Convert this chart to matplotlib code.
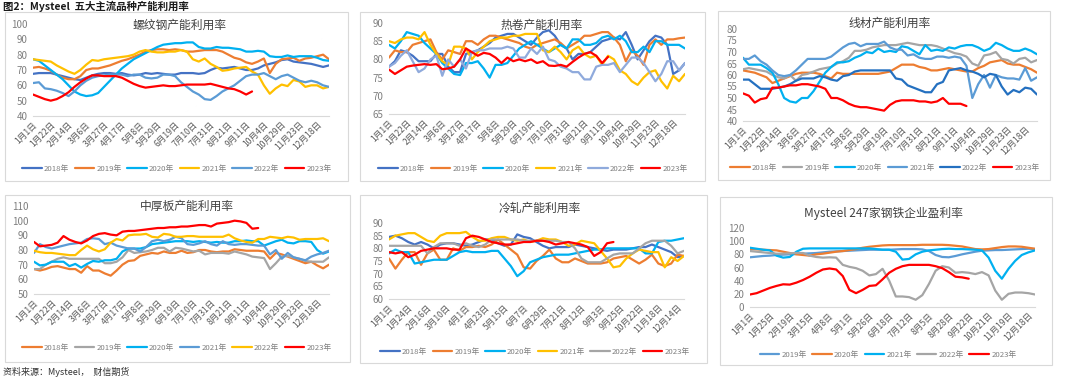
import numpy as np
import matplotlib
matplotlib.use("Agg")
import matplotlib.pyplot as plt
from matplotlib.patches import Rectangle

plt.rcParams["font.family"] = ["Noto Sans CJK SC", "DejaVu Sans"]

# ---------------- data ----------------
labels_a = ["1月1日", "1月22日", "2月14日", "3月6日", "3月27日", "4月17日", "5月8日", "5月29日",
            "6月19日", "7月10日", "7月31日", "8月21日", "9月11日", "10月4日", "10月29日", "11月23日", "12月18日"]
labels_cr = ["1月1日", "1月24日", "2月16日", "3月10日", "4月1日", "4月23日", "5月15日", "6月7日",
             "6月29日", "7月21日", "8月12日", "9月3日", "9月25日", "10月22日", "11月18日", "12月14日"]
labels_pf = ["1月1日", "1月25日", "2月19日", "3月15日", "4月8日", "5月1日", "5月26日", "6月18日",
             "7月12日", "8月5日", "8月28日", "9月22日", "10月21日", "11月19日", "12月18日"]

# 螺纹钢
rb_2018 = [67.5, 68, 68, 68, 67, 66, 65, 64, 63.5, 65, 66.5, 67.5, 68, 68, 67.5, 68, 67, 66.5, 67, 68, 67.5, 68, 67.5, 67, 67,
           68, 68, 68, 67.5, 68, 70, 71.5, 71, 71.5, 72, 71, 70, 70, 71, 73, 74, 75, 76.5, 77, 75.5, 75, 74.5, 74, 73, 72, 73]
rb_2019 = [71.5, 72, 71, 69.5, 67, 65, 64, 64, 66, 70, 71, 71, 72, 73, 74.5, 76, 77, 78.5, 80, 82, 83, 83.5, 83.5, 83, 83.5,
           83, 82, 82, 82.5, 83, 83, 83, 82, 80, 78, 77, 75, 74, 75.5, 77.5, 68, 74, 77, 77.5, 78, 76, 77.5, 78, 79, 80, 77]
rb_2020 = [77, 76, 73, 70, 67, 64, 60, 56, 54, 53, 53.5, 55, 59, 63, 67, 71, 74, 77, 79, 81, 83, 85, 86.5, 87, 87.5,
           87.5, 88, 88, 85, 84, 84, 85, 84.5, 84.5, 84, 83.5, 82, 82, 82.5, 82, 79, 78.5, 78.5, 79.5, 78.5, 79, 79, 79, 78, 76.5, 76]
rb_2021 = [77, 76.5, 76, 75.5, 73, 71, 69, 67.5, 70, 73.5, 76.5, 76, 77, 77.5, 78, 78.5, 79, 80, 82, 83, 82, 81.5, 81.5, 82, 82,
           83, 82, 77, 75.5, 77.5, 74, 72, 69.5, 70, 71, 71.5, 72, 69, 67, 60, 54.5, 58, 60.5, 59.5, 63.5, 62.5, 59, 60, 60, 58, 59]
rb_2022 = [61.5, 62, 58, 57.5, 56.5, 55, 53, 56, 60, 63, 65, 66, 66.5, 67, 67, 67, 66, 67, 67, 65, 64.5, 65, 67, 67, 66,
           62, 59, 56, 54, 51, 50.5, 53, 56, 58, 60, 63, 66, 67, 67, 68, 66, 64, 66, 67, 65, 63, 62, 63, 62, 60, 59]
rb_2023 = [54, 52.5, 51, 50, 51, 53, 55.5, 59, 62, 64.5, 66.5, 66.5, 66, 66, 66, 65, 63, 61, 59.5, 58.5, 59, 59.5, 60, 59.5, 59.5,
           60, 60.5, 60.5, 60.5, 60.5, 61, 60, 59, 58, 57.5, 56, 54, 56]

# 热卷
hr_2018 = [78, 79.5, 82.5, 82, 81, 79.5, 79.5, 79.5, 81.5, 81.5, 78, 76.5, 76.5, 81.5, 82, 82.5, 83.5, 84.5, 86, 86.5,
           87, 87, 86, 85, 84, 86, 87.5, 88, 86.5, 84, 83, 80, 81.5, 81.5, 82, 83.5, 85, 85.5, 86, 85.5,
           87.5, 84, 80, 82.5, 85, 86.5, 86, 84, 76, 77, 79]
hr_2019 = [80.5, 82.5, 82, 82, 84, 84.5, 85, 85.5, 82, 80, 82.5, 82, 81.5, 85, 85, 84, 85.5, 86.5, 86.5, 86,
           85.5, 85, 84.5, 83.5, 83, 84, 84.5, 85, 85.5, 84.5, 83, 84, 85, 86.5, 86.5, 87, 87.5, 87.5, 86, 84,
           79.5, 82.5, 81, 78.5, 84, 85.5, 84, 85.5, 85.5, 85.8, 86]
hr_2020 = [84, 83, 85, 87.5, 87, 86.5, 84.5, 83, 81.5, 79, 77.5, 76, 75.7, 79, 79, 79.5, 77.5, 75, 78.5, 78.5,
           79, 81, 83, 84, 85, 84, 83, 82, 83, 84, 83, 85.5, 85.5, 84, 84, 84.5, 86, 86.5, 85.5, 86.5,
           85, 82, 82, 83.5, 82, 85, 85, 84, 84, 84, 83]
hr_2021 = [85, 84.5, 85.5, 86, 86, 85.5, 87.5, 84, 81.5, 79.5, 78.5, 83.5, 83.5, 83, 80, 82, 83.5, 85, 85.5, 86,
           86, 86.5, 86.5, 87, 87, 87, 82.5, 82, 83.5, 82, 80, 82.5, 83.5, 81.5, 80.5, 81, 78.5, 81, 80, 77,
           76, 74, 73, 75, 76.5, 77, 74, 72, 75.5, 74, 76]
hr_2022 = [78, 79, 81, 82.5, 79.5, 76.5, 77.5, 80, 81, 75.5, 80, 78, 80, 77.5, 82, 82.5, 82.5, 83, 83, 83,
           83.5, 83, 80.5, 80.5, 83, 81.5, 83.5, 80, 79.5, 78, 77.5, 76.5, 76.5, 74.5, 74.5, 78, 78.5, 78.5, 79, 76.5,
           78.5, 80.5, 80.5, 79, 76.5, 74, 76, 79.5, 79.5, 77, 79]
hr_2023 = [77.2, 76, 77, 78, 78.3, 78.5, 78.7, 78.5, 78.7, 77.3, 77.5, 78, 80, 83, 82, 81, 81.8, 81.5, 80.5, 79,
           80.5, 79.5, 80, 79.5, 80, 79, 79.5, 78.3, 78.2, 78.5, 78, 79.3, 80.5, 81.5, 82, 81, 79, 80.7]

# 线材
wr_2018 = [62, 61.5, 61, 60, 59, 56.5, 57.5, 58.5, 59.5, 60.5, 61, 61, 61, 60.5, 59.5, 58.5, 61, 60.5, 60.5, 60.5,
           60.5, 60.5, 60.5, 60.5, 61, 61.5, 63, 64.5, 64.5, 64.5, 63.5, 63, 62, 62, 62.5, 63, 62.5, 62, 61.5, 61.5,
           63, 64, 65.5, 66, 66.5, 65, 64.5, 64.5, 63.5, 62.5, 61]
wr_2019 = [62.5, 63, 62.5, 62, 61.5, 60, 59, 58.5, 60, 57.5, 60, 60.5, 61.5, 62.5, 63, 63.5, 65, 66, 67.5, 70.5,
           70.5, 71, 72, 72.5, 73, 73, 73, 73.5, 74, 73.5, 73, 73, 73, 72.5, 71.5, 70.5, 69.5, 69, 68, 65,
           64, 68.5, 69, 70, 67, 66.5, 65, 67, 67.5, 65.5, 66.5]
wr_2020 = [67.5, 64.5, 64.5, 64.5, 63, 61, 56, 50, 48.5, 48, 50, 50, 53, 57, 61, 63.5, 65.5, 65.5, 66, 67.5,
           68.5, 70, 69.5, 71.5, 70, 70.5, 70, 72.5, 72, 70.5, 69, 73, 70.5, 71, 70.5, 72, 71.5, 72.5, 73, 73,
           72, 70.5, 71.5, 74, 73, 71.5, 70.5, 70.5, 71.5, 70.5, 69]
wr_2021 = [67, 67, 68.5, 66, 64.5, 62, 60, 59.5, 60, 62, 64.5, 67, 67, 67, 67, 68, 70, 72, 73.5, 74,
           72.5, 73.5, 73.5, 73.5, 74.5, 72, 71, 71, 68.5, 69, 67.5, 67, 67, 68, 68, 67.5, 68, 67.5, 64, 50,
           56, 60, 54.5, 60, 59, 58.5, 58.5, 58, 63, 57.5, 59]
wr_2022 = [58, 58, 56, 54, 54, 54, 54.5, 55, 56, 57.5, 58.5, 58.5, 58.5, 59.5, 59, 58, 57.5, 59.5, 60, 61.5,
           62, 62, 62, 62, 62, 62, 58.5, 58, 55.5, 54.5, 53.5, 52.5, 52.5, 56, 57, 62, 62.5, 63, 62, 61.5,
           60.5, 59, 60.5, 60, 55, 51.5, 53.5, 52.5, 54.5, 54, 51.5]
wr_2023 = [52, 51, 48, 49.5, 50, 54.5, 54.5, 55, 55.5, 55.5, 56, 56, 55.5, 55, 54, 50, 50, 49, 47.5, 46.5,
           46, 46, 45.5, 45, 44.5, 47, 48.5, 49, 49, 49, 48.5, 48.5, 48, 48.5, 50, 47.5, 47.5, 47.5, 46.5]

# 中厚板
pl_2018 = [67, 66, 67, 68.5, 69, 68, 67, 67, 64.5, 69, 66, 66, 64, 62.5, 66, 70, 72.5, 73, 76, 77,
           78, 77.5, 79, 78, 78, 79.5, 78, 78.5, 80, 80, 79, 78.5, 79, 79, 80.5, 80, 79.5, 79.5, 79.5, 79,
           74, 78, 77, 75.5, 74, 72.5, 71, 72, 69.5, 67.5, 70]
pl_2019 = [67, 67, 70, 72, 74, 75, 74, 74, 74, 74, 74, 74, 71, 71, 72, 75, 80, 78, 78.5, 79,
           80, 81.5, 81.5, 79, 81.5, 81, 80, 79, 79.5, 77, 78, 78, 78, 77.5, 79, 78, 77, 75.5, 75, 74.5,
           67, 71, 75.5, 76, 75, 74, 72.5, 72, 72, 72, 75]
pl_2020 = [72, 69.5, 70, 72, 72, 72, 69, 70.5, 68, 70.5, 72.5, 72, 73, 73, 74, 79, 81, 81, 81, 82,
           84, 84.5, 85, 85.5, 86, 86, 86, 85.5, 86, 85.5, 85, 85.5, 85, 85, 86, 86, 86.5, 86, 86, 83,
           84.5, 86, 87, 85, 84.5, 86, 86, 85.5, 80, 77.5, 79]
pl_2021 = [78, 84, 82, 81, 82, 83, 84, 84.5, 85, 87.5, 88, 87.5, 84, 85, 83, 82, 81, 81, 79, 82,
           86, 87, 86, 87, 89, 88, 84, 83.5, 84.5, 86, 84, 83, 86, 84, 83.5, 84, 84, 83.5, 83, 83,
           77, 80, 74, 78, 75, 74, 73, 75.5, 77, 78, 79.5]
pl_2022 = [79.5, 78.5, 78, 78, 77.5, 77, 76.5, 76.5, 80, 83, 80.5, 79, 80.5, 85, 87.5, 86.5, 90, 90.5, 90.5, 91,
           89, 88.5, 91, 90.5, 89, 89, 89.5, 89.5, 89, 89, 89, 89, 89, 90.5, 88, 86.5, 85.5, 85, 87.5, 87.5,
           89, 88.5, 88, 89, 88.5, 87, 87.5, 87.5, 87.5, 88, 86]
pl_2023 = [85.5, 82.5, 83, 83.5, 85, 89.5, 87, 85.5, 84.5, 86.5, 89.5, 91, 91.5, 90.5, 90, 92.5, 93, 93, 93.5, 94,
           94.5, 95, 95, 95.5, 95.5, 96, 96, 96.5, 97, 97, 96, 98, 98.5, 99, 100, 99.5, 98.5, 94.5, 95]

# 冷轧
cr_2018 = [84.5, 85, 84, 82.5, 81.5, 82.5, 81.5, 80, 81.5, 82, 82, 81.5, 81, 81.5, 82.5, 83.5, 83.5, 82, 81, 81.5,
           85.5, 84.5, 84, 82.5, 81, 80, 80.5, 80.5, 80.5, 81.5, 81, 80.5, 80, 79.5, 79, 79.5, 79.5, 79.5, 80, 80.5,
           80.5, 81.5, 80.5, 79.5, 78.5, 76.5, 77]
cr_2019 = [76, 72, 75.5, 78.5, 78.5, 73.5, 78, 79.5, 75.5, 75.5, 80, 79, 80.5, 80.5, 81, 80.5, 81.5, 83.5, 81.5, 79.5,
           77.5, 72.5, 72, 75, 77, 79.5, 76, 74.5, 74.5, 76, 75, 74, 74, 74, 74.5, 76, 76.5, 77, 75.5, 74,
           75.5, 77.5, 74, 73, 74, 77.5, 77]
cr_2020 = [78, 79.5, 78.5, 78.5, 74, 74.5, 75, 75.5, 75.5, 75.5, 77, 78.5, 79, 78.5, 78.5, 78.5, 79, 79, 76, 73,
           69, 71, 74.5, 75.5, 76.5, 77, 77.5, 77.5, 77.5, 78, 78.5, 79, 79.5, 79.5, 80, 80, 80, 80, 80, 80,
           78, 78, 82.5, 83, 83, 83.5, 84]
cr_2021 = [83.5, 85, 85.5, 86, 86, 84.5, 83, 82.5, 85, 86, 86, 86, 86.5, 84.5, 83, 83, 84, 84.5, 84.5, 83.5,
           83, 83.5, 82.5, 83, 84, 83.5, 83.5, 82.5, 81, 81.5, 83, 82.5, 82, 79, 76, 72.5, 73, 76, 78, 79.5,
           79, 78.5, 78.5, 72.5, 76.5, 75, 77]
cr_2022 = [81, 81, 81, 81, 81, 81, 78, 80.5, 82, 82, 82, 81, 82, 81, 80.5, 81.5, 83.5, 83.5, 83.5, 83.5,
           83.5, 83, 83, 83, 83, 83, 83, 82.5, 82.5, 80, 76, 74.5, 74.5, 74.5, 76, 77.5, 78, 78, 78, 80,
           82, 83, 83, 83, 81, 78, 79]
cr_2023 = [78.5, 78, 78.5, 76.5, 77.5, 79, 79.5, 80, 80, 80, 79.5, 79.5, 84, 85, 84.5, 83.5, 82.5, 82, 81.5, 81.5,
           82, 82.5, 82.5, 83, 83, 82.5, 81.5, 82, 82.5, 82, 81.5, 80.5, 77, 78.5, 82, 82.5]

# 247家钢铁企业盈利率
pf_2019 = [75.5, 76.5, 77.5, 78, 79, 79.5, 80, 80.5, 81, 81.5, 82, 83, 84, 84.5, 85, 85.5, 86, 86.5, 87, 87,
           87, 87, 87.5, 88, 88, 88, 87.5, 85, 79, 76, 75.5, 77.5, 80, 82, 84, 85.5, 86, 86.5, 86.5, 87,
           87.5, 88, 88.5, 88]
pf_2020 = [88, 87.5, 87, 86.5, 86, 84, 82, 80, 79, 78, 80, 81, 82.5, 84, 85, 86.5, 88, 90, 91.5, 92.5,
           93.5, 94, 94, 94, 94, 94, 94.5, 94.5, 94.5, 94.5, 94, 93, 92, 90, 88, 87.5, 88, 89.5, 91, 92,
           92, 91.5, 90, 88.5]
pf_2021 = [90, 88.5, 87, 86, 78, 75, 76, 84, 88.5, 89, 89, 89, 89, 89, 89, 89, 89, 89, 89, 88,
           87, 87, 84, 72, 73, 80, 84, 86, 87, 88, 88.5, 88, 88, 87.5, 87, 86, 75, 55, 43, 58,
           70, 79, 83, 86]
pf_2022 = [85, 84, 83, 82, 81, 81, 81.5, 82, 82, 78, 76, 75, 75.5, 75, 64, 61, 59, 55, 48, 50,
           58, 40, 16, 16, 15, 11, 18, 35, 55, 62, 60, 52, 53, 52, 50, 53, 48, 25, 11, 20,
           22, 22, 21, 19]
pf_2023 = [19, 21, 25, 29, 32, 34.5, 34, 37, 41, 46, 52, 57, 58.5, 57, 47, 26, 21, 26, 32, 33,
           42, 52, 58, 62, 64, 64, 64, 64, 62, 59, 53, 46, 45, 43]

BLUE = "#4472C4"
ORANGE = "#ED7D31"
CYAN = "#00B0F0"
YELLOW = "#FFC000"
GREY = "#A5A5A5"
LBLUE = "#5B9BD5"
LAV = "#8FAADC"
DBLUE = "#2470C0"
RED = "#FF0000"

W, H = 1080, 379
fig = plt.figure(figsize=(W / 100, H / 100), dpi=100)


def fx(x):
    return x / W


def fy(y):
    return 1 - y / H


def panel(box, area, title, title_xy, ylim, ystep, labels, series, leg_xy, npts):
    bx0, by0, bx1, by1 = box
    fig.patches.append(Rectangle((fx(bx0), fy(by1)), fx(bx1 - bx0), (by1 - by0) / H,
                                 transform=fig.transFigure, fill=False, ec="#D9D9D9", lw=0.8))
    x0, y0, x1, y1 = area
    ax = fig.add_axes([fx(x0), fy(y1), fx(x1 - x0), (y1 - y0) / H])
    handles = []
    for name, vals, col in series:
        h, = ax.plot(np.arange(len(vals)), vals, color=col, lw=1.6, label=name, solid_capstyle="round")
        handles.append(h)
    ax.set_xlim(0, npts - 1)
    ax.set_ylim(*ylim)
    ax.set_yticks(np.arange(ylim[0], ylim[1] + 0.1, ystep))
    ax.set_xticks(np.arange(0, 3 * len(labels), 3))
    ax.set_xticklabels(labels, rotation=45, ha="right", rotation_mode="anchor")
    ax.tick_params(axis="both", length=0, labelsize=6.2, colors="#595959")
    ax.tick_params(axis="y", pad=4, labelsize=7, colors="#7f7f7f")
    ax.tick_params(axis="x", pad=3)
    for s in ["top", "right", "left"]:
        ax.spines[s].set_visible(False)
    ax.spines["bottom"].set_color("#D9D9D9")
    ax.spines["bottom"].set_linewidth(0.8)
    fig.text(fx(title_xy[0]), fy(title_xy[1]), title, ha="center", va="center",
             fontsize=8.5, color="#404040")
    fig.legend(handles=handles, loc="center", bbox_to_anchor=(fx(leg_xy[0]), fy(leg_xy[1])),
               ncol=len(handles), frameon=False, fontsize=5.6, handlelength=2.5,
               handletextpad=0.3, columnspacing=0.7, labelcolor="#7f7f7f",
               borderpad=0.1, borderaxespad=0)
    return ax


yrs = ["2018年", "2019年", "2020年", "2021年", "2022年", "2023年"]

panel((5, 12, 348, 181), (33, 24, 329, 116), "螺纹钢产能利用率", (180, 25), (40, 100), 10, labels_a,
      list(zip(yrs, [rb_2018, rb_2019, rb_2020, rb_2021, rb_2022, rb_2023],
               [BLUE, ORANGE, CYAN, YELLOW, LBLUE, RED])), (177, 169), 51)

panel((360, 12, 705, 181), (389, 23, 685, 114), "热卷产能利用率", (542, 25), (65, 90), 5, labels_a,
      list(zip(yrs, [hr_2018, hr_2019, hr_2020, hr_2021, hr_2022, hr_2023],
               [BLUE, ORANGE, CYAN, YELLOW, LAV, RED])), (533, 169), 51)

panel((718, 11, 1050, 180), (743, 29, 1037, 121), "线材产能利用率", (890, 23), (40, 80), 5, labels_a,
      list(zip(yrs, [wr_2018, wr_2019, wr_2020, wr_2021, wr_2022, wr_2023],
               [ORANGE, GREY, CYAN, LBLUE, DBLUE, RED])), (885, 168), 51)

panel((5, 195, 350, 362), (34, 206, 329, 294), "中厚板产能利用率", (187, 206), (50, 110), 10, labels_a,
      list(zip(yrs, [pl_2018, pl_2019, pl_2020, pl_2021, pl_2022, pl_2023],
               [ORANGE, GREY, CYAN, LBLUE, YELLOW, RED])), (177, 348), 51)

panel((360, 195, 707, 363), (389, 223, 684, 299), "冷轧产能利用率", (540, 208), (60, 90), 5, labels_cr,
      list(zip(yrs, [cr_2018, cr_2019, cr_2020, cr_2021, cr_2022, cr_2023],
               [BLUE, ORANGE, CYAN, YELLOW, GREY, RED])), (535, 352), 47)

panel((720, 197, 1052, 365), (750, 228, 1035, 307), "Mysteel 247家钢铁企业盈利率", (883, 213), (0, 120), 20,
      labels_pf,
      list(zip(yrs[1:], [pf_2019, pf_2020, pf_2021, pf_2022, pf_2023],
               [LBLUE, ORANGE, CYAN, GREY, RED])), (888, 355), 44)

fig.text(fx(3), fy(6), "图2：Mysteel  五大主流品种产能利用率", ha="left", va="center",
         fontsize=7.5, fontweight="bold", color="#1a1a1a")
fig.text(fx(3), fy(372), "资料来源：Mysteel，  财信期货", ha="left", va="center",
         fontsize=6.5, color="#333333", style="italic")

fig.savefig("out.png", dpi=100)
